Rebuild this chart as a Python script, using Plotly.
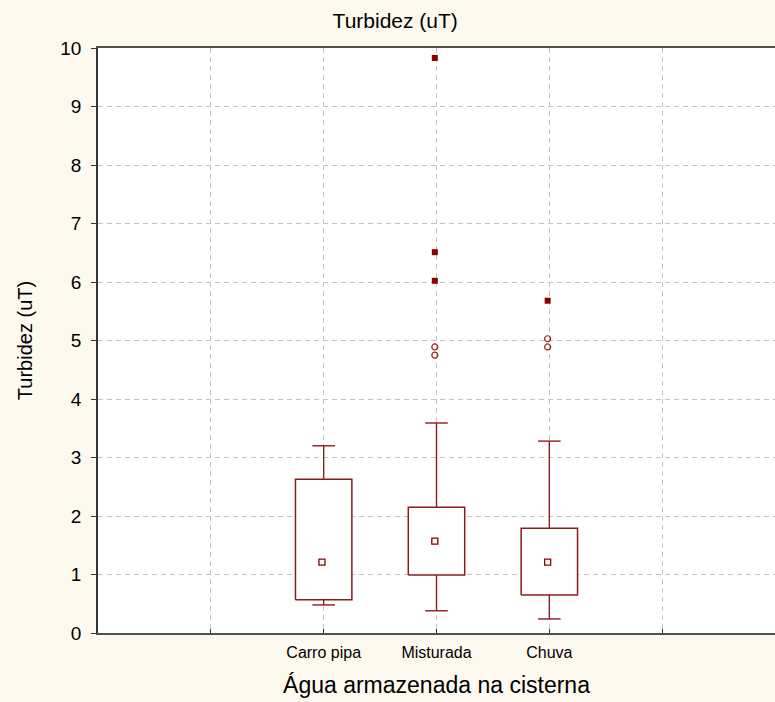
import plotly.graph_objects as go

categories = ["Carro pipa", "Misturada", "Chuva"]
cat_pos = [2, 3, 4]
q1 = [0.57, 0.99, 0.65]
median = [1.21, 1.57, 1.21]
q3 = [2.63, 2.15, 1.79]
whisk_low = [0.48, 0.38, 0.24]
whisk_high = [3.20, 3.59, 3.28]
outliers = [[], [4.89, 4.75], [5.03, 4.89]]
extremes = [[], [9.83, 6.51, 6.02], [5.68]]

BOX_HALF = 0.25
CAP_HALF = 0.1
RED = "#8B0000"
LINE = "#8E1B1B"

fig = go.Figure()

for i, c in enumerate(cat_pos):
    fig.add_trace(go.Scatter(
        x=[c - BOX_HALF, c + BOX_HALF, c + BOX_HALF, c - BOX_HALF, c - BOX_HALF],
        y=[q1[i], q1[i], q3[i], q3[i], q1[i]],
        mode="lines", line=dict(color=LINE, width=1.5),
        fill="toself", fillcolor="white", showlegend=False, hoverinfo="skip"))
    fig.add_trace(go.Scatter(
        x=[c, c, None, c, c, None,
           c - CAP_HALF, c + CAP_HALF, None, c - CAP_HALF, c + CAP_HALF],
        y=[q3[i], whisk_high[i], None, q1[i], whisk_low[i], None,
           whisk_high[i], whisk_high[i], None, whisk_low[i], whisk_low[i]],
        mode="lines", line=dict(color=LINE, width=1.4),
        showlegend=False, hoverinfo="skip"))
    fig.add_trace(go.Scatter(
        x=[c - 0.015], y=[median[i]], mode="markers",
        marker=dict(symbol="square-open", size=6, color=RED, line=dict(width=1.3)),
        showlegend=False))
    if outliers[i]:
        fig.add_trace(go.Scatter(
            x=[c - 0.015] * len(outliers[i]), y=outliers[i], mode="markers",
            marker=dict(symbol="circle-open", size=6, color="#A01818", line=dict(width=1.2)),
            showlegend=False))
    if extremes[i]:
        fig.add_trace(go.Scatter(
            x=[c - 0.015] * len(extremes[i]), y=extremes[i], mode="markers",
            marker=dict(symbol="square", size=6, color=RED),
            showlegend=False))

font_family = "Liberation Sans, Arial, sans-serif"

fig.update_layout(
    width=775, height=702,
    margin=dict(l=98, r=0, t=48, b=69),
    paper_bgcolor="#FEF9EE",
    plot_bgcolor="white",
    font=dict(family=font_family, color="black"),
    title=dict(text="Turbidez (uT)", x=0.51, xanchor="center", y=0.971, yanchor="middle",
               font=dict(size=21, family=font_family)),
    xaxis=dict(
        range=[0, 6], tickvals=[1, 2, 3, 4, 5],
        ticktext=["", categories[0], categories[1], categories[2], ""],
        showgrid=True, gridcolor="#C4C4C4", griddash="5px,4px", gridwidth=1,
        showline=True, linecolor="#505050", linewidth=2, mirror=True,
        ticks="inside", ticklen=4, tickcolor="#333333",
        tickfont=dict(size=16), ticklabelstandoff=4, zeroline=False,
        title=dict(text="Água armazenada na cisterna", font=dict(size=23), standoff=17),
    ),
    yaxis=dict(
        range=[0, 10], tickvals=list(range(0, 11)),
        showgrid=True, gridcolor="#C4C4C4", griddash="5px,4px", gridwidth=1,
        showline=True, linecolor="#333333", linewidth=1.5, mirror=False,
        ticks="outside", ticklen=5, tickcolor="#333333",
        tickfont=dict(size=19), ticklabelstandoff=6, zeroline=False,
        title=dict(text="Turbidez (uT)", font=dict(size=20), standoff=22),
    ),
)

fig.write_html("out.html", config={"displayModeBar": False},
               post_script="document.body.style.margin='0';")
